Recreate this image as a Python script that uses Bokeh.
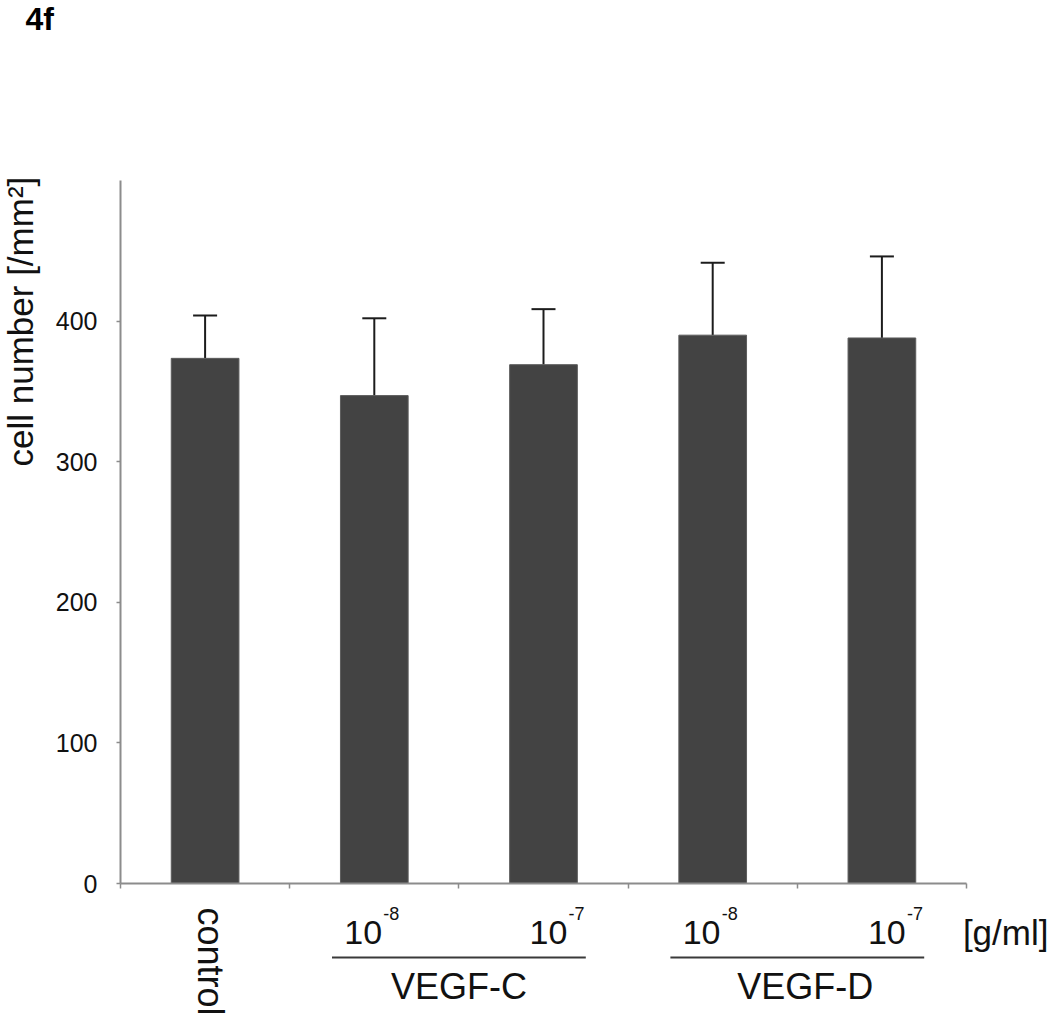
import math
from bokeh.plotting import figure
from bokeh.models import ColumnDataSource, Range1d, FixedTicker, Whisker, TeeHead, LinearAxis
from bokeh.embed import file_html
from bokeh.resources import INLINE
from bokeh.core.properties import value

# ---------------- data ----------------
categories = ["control", "VEGF-C 10^-8", "VEGF-C 10^-7", "VEGF-D 10^-8", "VEGF-D 10^-7"]
groups = ["control", "VEGF-C", "VEGF-C", "VEGF-D", "VEGF-D"]
exponents = ["", "-8", "-7", "-8", "-7"]
means = [373.5, 347, 369, 390, 388]
sds = [30.5, 55, 39.5, 51.5, 58]
y_ticks = [0, 100, 200, 300, 400]
y_max = 500
y_title = "cell number [/mm\u00b2]"
unit_label = "[g/ml]"
panel_label = "4f"
base_label = "10"

# ---------------- layout / style ----------------
FONT = "Liberation Sans"
TEXT = "#111111"
AXIS = "#8c8c8c"
BAR = "#434343"
W, H = 1048, 1018
AX_L, AX_T, AX_W, AX_H = 120, 180, 846, 703     # axis box in page px
n = len(means)
ppu = AX_W / n
x0 = -0.5

def dx(px):
    return x0 + (px - AX_L) / ppu

def dy(py):
    return (AX_T + AX_H - py) * y_max / AX_H

xs = list(range(n))
upper = [m + s for m, s in zip(means, sds)]
src = ColumnDataSource(dict(x=xs, mean=means, upper=upper, cat=categories))

p = figure(width=W, height=H, min_border=0,
           x_range=Range1d(dx(0), dx(W)), y_range=Range1d(dy(H), dy(0)),
           x_axis_location=None, y_axis_location=None,
           output_backend="svg", toolbar_location=None)
p.outline_line_color = None
p.grid.visible = False

p.vbar(x="x", top="mean", bottom=0, width=0.4, fill_color=BAR, line_color="#5c5c5c",
       line_width=1, source=src)

w = Whisker(source=src, base="x", lower="mean", upper="upper", line_color="#1c1c1c", line_width=2,
            upper_head=TeeHead(size=24, line_width=2, line_color="#1c1c1c"), lower_head=None)
p.add_layout(w)

xa = LinearAxis(fixed_location=0, bounds=(x0, x0 + n),
                ticker=FixedTicker(ticks=[], minor_ticks=[x0 + i for i in range(n + 1)]))
xa.minor_tick_out = 5
xa.minor_tick_in = 0
xa.major_tick_out = 0
xa.major_tick_in = 0
xa.minor_tick_line_color = AXIS
xa.minor_tick_line_width = 1.5
xa.axis_line_color = AXIS
xa.axis_line_width = 2
p.add_layout(xa, "below")

ya = LinearAxis(fixed_location=x0, bounds=(0, y_max), ticker=FixedTicker(ticks=y_ticks))
ya.major_label_text_font = FONT
ya.major_label_text_font_size = "25px"
ya.major_label_text_color = TEXT
ya.major_label_standoff = 19
ya.major_tick_out = 4
ya.major_tick_in = 0
ya.minor_tick_out = 0
ya.minor_tick_in = 0
ya.axis_line_color = AXIS
ya.axis_line_width = 2
ya.major_tick_line_color = AXIS
ya.major_tick_line_width = 1.5
p.add_layout(ya, "left")

# y title and panel label
p.text(x=[dx(20)], y=[dy(466)], text=[y_title], angle=math.pi / 2, text_align="left",
       text_baseline="alphabetic", text_font=value(FONT), text_font_size="35px", text_color=TEXT)
p.text(x=[dx(25)], y=[dy(18)], text=[panel_label], text_align="left", text_baseline="alphabetic",
       text_font=value(FONT), text_font_size="32px", text_font_style="bold", text_color="#000000")

# control (rotated)
p.text(x=[xs[0]], y=[dy(907)], text=[categories[0]], angle=-math.pi / 2, text_align="left",
       text_baseline="middle", x_offset=5, text_font=value(FONT), text_font_size="36px", text_color=TEXT)

# concentration labels
exp_offset = {"-8": -30, "-7": -14}
cx = [xs[i] for i in range(n) if exponents[i]]
ce = [exponents[i] for i in range(n) if exponents[i]]
conc = ColumnDataSource(dict(x=cx, base=[base_label] * len(cx), exp=ce,
                             off=[exp_offset[e] for e in ce],
                             off2=[exp_offset[e] + 39 for e in ce]))
p.text(x="x", y=dy(932), text="base", x_offset="off", text_align="left", text_baseline="alphabetic",
       text_font=value(FONT), text_font_size="34px", text_color=TEXT, source=conc)
p.text(x="x", y=dy(913), text="exp", x_offset="off2", text_align="left", text_baseline="alphabetic",
       text_font=value(FONT), text_font_size="18px", text_color=TEXT, source=conc)

# unit label
p.text(x=[xs[-1] + 81 / ppu], y=[dy(932)], text=[unit_label], text_align="left", text_baseline="alphabetic",
       text_font=value(FONT), text_font_size="35px", text_color=TEXT)

# group underlines and names
group_names = [g for g in dict.fromkeys(groups) if g != "control"]
name_offset = {"VEGF-C": 0, "VEGF-D": 8}
g0, g1, gm, gn, go = [], [], [], [], []
for g in group_names:
    idx = [i for i in range(n) if groups[i] == g]
    g0.append(min(idx) - 0.25)
    g1.append(max(idx) + 0.25)
    gm.append(sum(idx) / len(idx))
    gn.append(g)
    go.append(name_offset[g])
p.segment(x0=g0, x1=g1, y0=dy(957), y1=dy(957), line_color="#3a3a3a", line_width=2.2)
gsrc = ColumnDataSource(dict(x=gm, name=gn, off=go))
p.text(x="x", y=dy(986), text="name", x_offset="off", text_align="center", text_baseline="alphabetic",
       text_font=value(FONT), text_font_size="36px", text_color=TEXT, source=gsrc)

open("out.html", "w").write(file_html(p, INLINE))
